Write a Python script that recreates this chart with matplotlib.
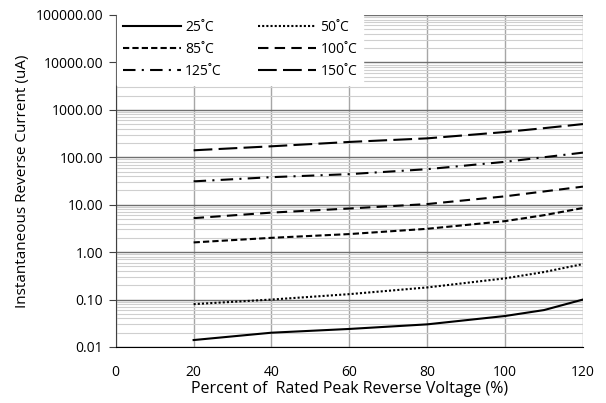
import numpy as np
import matplotlib.pyplot as plt
from matplotlib.ticker import LogLocator, FixedLocator, FuncFormatter

# Percent of rated peak reverse voltage
volt = [20, 40, 60, 80, 100, 110, 120]

# Reverse current (uA) per junction temperature
i25 = [0.014, 0.020, 0.024, 0.030, 0.045, 0.060, 0.100]
i50 = [0.080, 0.100, 0.130, 0.180, 0.280, 0.380, 0.560]
i85 = [1.6, 2.0, 2.4, 3.1, 4.5, 6.0, 8.5]
i100 = [5.2, 6.8, 8.3, 10.3, 15.0, 19.0, 24.0]
i125 = [31, 38, 44, 56, 80, 100, 125]
i150 = [140, 170, 210, 250, 340, 410, 500]

labels = ['25˚C', '50˚C', '85˚C', '100˚C', '125˚C', '150˚C']

plt.rcParams['font.family'] = ['Open Sans', 'DejaVu Sans']

fig = plt.figure(figsize=(6.06, 4.03), dpi=100)
ax = fig.add_axes([0.191, 0.139, 0.771, 0.824])

h25, = ax.plot(volt, i25, color='black', lw=1.5, ls='-')
h50, = ax.plot(volt, i50, color='black', lw=1.5, ls=(0, (1, 1)))
h85, = ax.plot(volt, i85, color='black', lw=1.5, ls=(0, (3, 1.5)))
h100, = ax.plot(volt, i100, color='black', lw=1.5, ls=(0, (5, 3)))
h125, = ax.plot(volt, i125, color='black', lw=1.5, ls=(0, (6, 3, 1, 3)))
h150, = ax.plot(volt, i150, color='black', lw=1.5, ls=(0, (9, 3)))

ax.set_yscale('log')
ax.set_xlim(0, 120)
ax.set_ylim(0.01, 100000)
ax.xaxis.set_major_locator(FixedLocator([0, 20, 40, 60, 80, 100, 120]))
ax.yaxis.set_major_locator(LogLocator(base=10, numticks=10))
ax.yaxis.set_minor_locator(LogLocator(base=10, subs=np.arange(2, 10), numticks=20))
ax.yaxis.set_major_formatter(FuncFormatter(lambda v, p: '%.2f' % v))
ax.yaxis.set_minor_formatter(FuncFormatter(lambda v, p: ''))

ax.grid(True, which='major', axis='y', color='#707070', lw=1.0)
ax.grid(True, which='minor', axis='y', color='#cfcfcf', lw=0.8)
ax.grid(True, which='major', axis='x', color='#a6a6a6', lw=1.0)
ax.set_axisbelow(True)

for s in ['top', 'right']:
    ax.spines[s].set_visible(False)
ax.spines['left'].set_color('#404040')
ax.spines['bottom'].set_color('black')
ax.tick_params(axis='y', which='major', length=5, color='#404040', labelsize=10, pad=4)
ax.tick_params(axis='y', which='minor', length=0)
ax.tick_params(axis='x', length=0, labelsize=10, pad=13)

ax.set_xlabel('Percent of  Rated Peak Reverse Voltage (%)', fontsize=11.5, labelpad=1)
ax.set_ylabel('Instantaneous Reverse Current (uA)', fontsize=11, labelpad=4)

leg = ax.legend([h25, h85, h125, h50, h100, h150],
                [labels[0], labels[2], labels[4], labels[1], labels[3], labels[5]],
                ncol=2, loc='upper left', bbox_to_anchor=(0.0, 1.005),
                fontsize=10, frameon=True, fancybox=False, framealpha=1,
                edgecolor='white', handlelength=4.2, columnspacing=2.6,
                labelspacing=0.5, borderaxespad=0.1, handletextpad=0.3)

fig.savefig('out.png', dpi=100, facecolor='white')
